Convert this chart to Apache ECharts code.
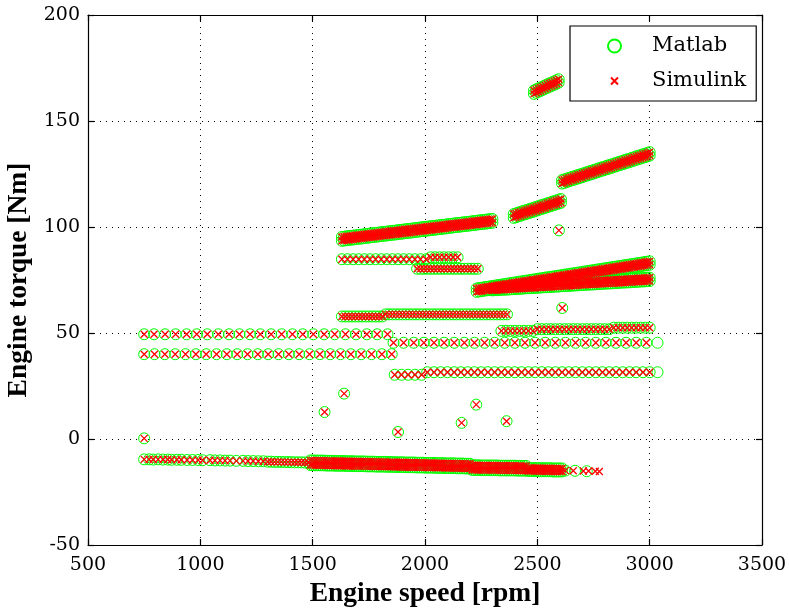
<!DOCTYPE html>
<html><head><meta charset="utf-8">
<script src="https://cdn.jsdelivr.net/npm/echarts@6/dist/echarts.min.js"></script>
<style>html,body{margin:0;padding:0;background:#fff}#c{width:789px;height:612px}</style>
</head><body><div id="c"></div><script>
// ---------- data (engine speed rpm, engine torque Nm) ----------
const xTicks = [500, 1000, 1500, 2000, 2500, 3000, 3500];
const yTicks = [-50, 0, 50, 100, 150, 200];

// horizontal rows of samples (rpm list, torque)
const row49Rpm = [750,794,843,890,939,984,1031,1080,1128,1174,1221,1267,1315,1362,1410,1456,1503,1551,1598,1646,1693,1741,1787,1833];
const row49Tq = 49.4;
const row40Rpm = [750,796,842,888,934,980,1026,1072,1118,1164,1210,1256,1302,1348,1394,1440,1486,1532,1578,1624,1670,1716,1762,1808,1852];
const row40Tq = 40.0;
const row45Rpm = [1860,1905,1950,1995,2040,2085,2130,2175,2220,2265,2310,2355,2400,2445,2490,2535,2580,2625,2670,2715,2760,2805,2850,2895,2940,2985];
const row45Tq = 45.4;
const row30Rpm = [1865,1895,1925,1955,1985];
const row30Tq = 30.3;
const row31Rpm = [2010,2040,2070,2100,2130,2160,2190,2220,2250,2280,2310,2340,2370,2400,2430,2460,2490,2520,2550,2580,2610,2640,2670,2700,2730,2760,2790,2820,2850,2880,2910,2940,2970,3000];
const row31Tq = 31.5;
const row58aRpm = [1630,1645,1660,1675,1690,1705,1720,1735,1750,1765,1780,1795,1810];
const row58aTq = 57.8;
const row58bRpm = [1825,1840,1855,1870,1885,1900,1915,1930,1945,1960,1975,1990,2005,2020,2035,2050,2065,2080,2095,2110,2125,2140,2155,2170,2185,2200,2215,2230,2245,2260,2275,2290,2305,2320,2335,2350,2365];
const row58bTq = 58.8;
const row51aRpm = [2340,2360,2380,2400,2420,2440,2460,2480];
const row51aTq = 51.0;
const row51bRpm = [2500,2520,2540,2560,2580,2600,2620,2640,2660,2680,2700,2720,2740,2760,2780,2800,2820];
const row51bTq = 51.8;
const row51cRpm = [2840,2860,2880,2900,2920,2940,2960,2980,3000];
const row51cTq = 52.5;
const row85aRpm = [1630,1655,1680,1705,1730,1755,1780,1805,1830,1855,1880,1905,1930,1955,1980,2005];
const row85aTq = 84.8;
const row85bRpm = [2025,2045,2065,2085,2105,2125,2145];
const row85bTq = 85.7;
const row80Rpm = [1965,1980,1995,2010,2025,2040,2055,2070,2085,2100,2115,2130,2145,2160,2175,2190,2205,2220,2235];
const row80Tq = 80.3;

// dense sloped bands (rpm list, upper-edge torque, lower-edge torque)
const b94Rpm = [1630,1640,1650,1660,1670,1680,1690,1700,1710,1720,1730,1740,1750,1760,1770,1780,1790,1800,1810,1820,1830,1840,1850,1860,1870,1880,1890,1900,1910,1920,1930,1940,1950,1960,1970,1980,1990,2000,2010,2020,2030,2040,2050,2060,2070,2080,2090,2100,2110,2120,2130,2140,2150,2160,2170,2180,2190,2200,2210,2220,2230,2240,2250,2260,2270,2280,2290,2300];
const b94Hi = [95.3,95.4,95.6,95.7,95.8,95.9,96.1,96.2,96.3,96.4,96.6,96.7,96.8,97.0,97.1,97.2,97.3,97.5,97.6,97.7,97.8,98.0,98.1,98.2,98.3,98.5,98.6,98.7,98.9,99.0,99.1,99.2,99.4,99.5,99.6,99.8,99.9,100.0,100.1,100.3,100.4,100.5,100.6,100.8,100.9,101.0,101.1,101.3,101.4,101.5,101.7,101.8,101.9,102.0,102.2,102.3,102.4,102.5,102.7,102.8,102.9,103.1,103.2,103.3,103.4,103.6,103.7,103.8];
const b94Lo = [93.5,93.6,93.8,93.9,94.0,94.1,94.3,94.4,94.5,94.6,94.8,94.9,95.0,95.2,95.3,95.4,95.5,95.7,95.8,95.9,96.0,96.2,96.3,96.4,96.5,96.7,96.8,96.9,97.1,97.2,97.3,97.4,97.6,97.7,97.8,98.0,98.1,98.2,98.3,98.5,98.6,98.7,98.8,99.0,99.1,99.2,99.3,99.5,99.6,99.7,99.9,100.0,100.1,100.2,100.4,100.5,100.6,100.7,100.9,101.0,101.1,101.3,101.4,101.5,101.6,101.8,101.9,102.0];

const b105Rpm = [2395,2405,2415,2425,2435,2445,2455,2465,2475,2485,2495,2505,2515,2525,2535,2545,2555,2565,2575,2585,2595,2605];
const b105Hi = [106.1,106.4,106.8,107.1,107.5,107.8,108.1,108.5,108.8,109.1,109.5,109.8,110.2,110.5,110.8,111.2,111.5,111.9,112.2,112.5,112.9,113.2];
const b105Lo = [104.3,104.6,105.0,105.3,105.7,106.0,106.3,106.7,107.0,107.3,107.7,108.0,108.4,108.7,109.0,109.4,109.7,110.1,110.4,110.7,111.1,111.4];

const b121Rpm = [2610,2620,2630,2640,2650,2660,2670,2680,2690,2700,2710,2720,2730,2740,2750,2760,2770,2780,2790,2800,2810,2820,2830,2840,2850,2860,2870,2880,2890,2900,2910,2920,2930,2940,2950,2960,2970,2980,2990,3000];
const b121Hi = [122.1,122.4,122.8,123.1,123.5,123.8,124.1,124.5,124.8,125.1,125.5,125.8,126.2,126.5,126.8,127.2,127.5,127.9,128.2,128.5,128.9,129.2,129.5,129.9,130.2,130.6,130.9,131.2,131.6,131.9,132.2,132.6,132.9,133.3,133.6,133.9,134.3,134.6,134.9,135.3];
const b121Lo = [120.5,120.8,121.2,121.5,121.9,122.2,122.5,122.9,123.2,123.5,123.9,124.2,124.6,124.9,125.2,125.6,125.9,126.3,126.6,126.9,127.3,127.6,127.9,128.3,128.6,129.0,129.3,129.6,130.0,130.3,130.6,131.0,131.3,131.7,132.0,132.3,132.7,133.0,133.3,133.7];

const b163Rpm = [2485,2495,2505,2515,2525,2535,2545,2555,2565,2575,2585,2595];
const b163Hi = [164.4,164.9,165.4,165.8,166.3,166.8,167.3,167.8,168.2,168.7,169.2,169.7];
const b163Lo = [162.8,163.3,163.8,164.2,164.7,165.2,165.7,166.2,166.6,167.1,167.6,168.1];

const b70uRpm = [2230,2240,2250,2260,2270,2280,2290,2300,2310,2320,2330,2340,2350,2360,2370,2380,2390,2400,2410,2420,2430,2440,2450,2460,2470,2480,2490,2500,2510,2520,2530,2540,2550,2560,2570,2580,2590,2600,2610,2620,2630,2640,2650,2660,2670,2680,2690,2700,2710,2720,2730,2740,2750,2760,2770,2780,2790,2800,2810,2820,2830,2840,2850,2860,2870,2880,2890,2900,2910,2920,2930,2940,2950,2960,2970,2980,2990,3000];
const b70uHi = [71.0,71.2,71.3,71.5,71.7,71.8,72.0,72.2,72.3,72.5,72.7,72.8,73.0,73.2,73.3,73.5,73.7,73.8,74.0,74.2,74.3,74.5,74.7,74.8,75.0,75.2,75.3,75.5,75.7,75.8,76.0,76.2,76.3,76.5,76.6,76.8,77.0,77.1,77.3,77.5,77.6,77.8,78.0,78.1,78.3,78.5,78.6,78.8,79.0,79.1,79.3,79.5,79.6,79.8,80.0,80.1,80.3,80.5,80.6,80.8,81.0,81.1,81.3,81.5,81.6,81.8,82.0,82.1,82.3,82.5,82.6,82.8,83.0,83.1,83.3,83.5,83.6,83.8];
const b70uLo = [69.4,69.6,69.7,69.9,70.1,70.2,70.4,70.6,70.7,70.9,71.1,71.2,71.4,71.6,71.7,71.9,72.1,72.2,72.4,72.6,72.7,72.9,73.1,73.2,73.4,73.6,73.7,73.9,74.1,74.2,74.4,74.6,74.7,74.9,75.0,75.2,75.4,75.5,75.7,75.9,76.0,76.2,76.4,76.5,76.7,76.9,77.0,77.2,77.4,77.5,77.7,77.9,78.0,78.2,78.4,78.5,78.7,78.9,79.0,79.2,79.4,79.5,79.7,79.9,80.0,80.2,80.4,80.5,80.7,80.9,81.0,81.2,81.4,81.5,81.7,81.9,82.0,82.2];

const b70lRpm = [2300,2310,2320,2330,2340,2350,2360,2370,2380,2390,2400,2410,2420,2430,2440,2450,2460,2470,2480,2490,2500,2510,2520,2530,2540,2550,2560,2570,2580,2590,2600,2610,2620,2630,2640,2650,2660,2670,2680,2690,2700,2710,2720,2730,2740,2750,2760,2770,2780,2790,2800,2810,2820,2830,2840,2850,2860,2870,2880,2890,2900,2910,2920,2930,2940,2950,2960,2970,2980,2990,3000];
const b70lHi = [71.7,71.8,71.8,71.9,72.0,72.0,72.1,72.1,72.2,72.3,72.3,72.4,72.5,72.5,72.6,72.7,72.7,72.8,72.8,72.9,73.0,73.0,73.1,73.2,73.2,73.3,73.3,73.4,73.5,73.5,73.6,73.7,73.7,73.8,73.8,73.9,74.0,74.0,74.1,74.2,74.2,74.3,74.4,74.4,74.5,74.5,74.6,74.7,74.7,74.8,74.9,74.9,75.0,75.0,75.1,75.2,75.2,75.3,75.4,75.4,75.5,75.5,75.6,75.7,75.7,75.8,75.9,75.9,76.0,76.1,76.1];
const b70lLo = [70.1,70.2,70.2,70.3,70.4,70.4,70.5,70.5,70.6,70.7,70.7,70.8,70.9,70.9,71.0,71.1,71.1,71.2,71.2,71.3,71.4,71.4,71.5,71.6,71.6,71.7,71.7,71.8,71.9,71.9,72.0,72.1,72.1,72.2,72.2,72.3,72.4,72.4,72.5,72.6,72.6,72.7,72.8,72.8,72.9,72.9,73.0,73.1,73.1,73.2,73.3,73.3,73.4,73.4,73.5,73.6,73.6,73.7,73.8,73.8,73.9,73.9,74.0,74.1,74.1,74.2,74.3,74.3,74.4,74.5,74.5];

const negRpm = [1490,1500,1510,1520,1530,1540,1550,1560,1570,1580,1590,1600,1610,1620,1630,1640,1650,1660,1670,1680,1690,1700,1710,1720,1730,1740,1750,1760,1770,1780,1790,1800,1810,1820,1830,1840,1850,1860,1870,1880,1890,1900,1910,1920,1930,1940,1950,1960,1970,1980,1990,2000,2010,2020,2030,2040,2050,2060,2070,2080,2090,2100,2110,2120,2130,2140,2150,2160,2170,2180,2190,2200,2210,2220,2230,2240,2250,2260,2270,2280,2290,2300,2310,2320,2330,2340,2350,2360,2370,2380,2390,2400,2410,2420,2430,2440,2450,2460,2470,2480,2490,2500,2510,2520,2530,2540,2550,2560,2570,2580,2590,2600,2610];
const negHi = [-10.1,-10.1,-10.2,-10.2,-10.2,-10.2,-10.2,-10.3,-10.3,-10.3,-10.3,-10.4,-10.4,-10.4,-10.4,-10.4,-10.5,-10.5,-10.5,-10.5,-10.6,-10.6,-10.6,-10.6,-10.6,-10.7,-10.7,-10.7,-10.7,-10.8,-10.8,-10.8,-10.8,-10.8,-10.9,-10.9,-10.9,-10.9,-11.0,-11.0,-11.0,-11.0,-11.1,-11.1,-11.1,-11.1,-11.1,-11.2,-11.2,-11.2,-11.2,-11.3,-11.3,-11.3,-11.3,-11.3,-11.4,-11.4,-11.4,-11.4,-11.5,-11.5,-11.5,-11.5,-11.5,-11.6,-11.6,-11.6,-11.6,-11.7,-11.7,-11.7,-12.4,-12.4,-12.4,-12.4,-12.5,-12.5,-12.5,-12.5,-12.5,-12.5,-12.5,-12.5,-12.6,-12.6,-12.6,-12.6,-12.6,-12.6,-12.6,-12.6,-12.7,-12.7,-12.7,-12.7,-12.7,-13.7,-13.7,-13.7,-13.7,-13.7,-13.8,-13.8,-13.8,-13.8,-13.8,-13.8,-13.9,-13.9,-13.9,-13.9,-13.9];
const negLo = [-12.3,-12.3,-12.4,-12.4,-12.4,-12.4,-12.4,-12.5,-12.5,-12.5,-12.5,-12.6,-12.6,-12.6,-12.6,-12.6,-12.7,-12.7,-12.7,-12.7,-12.8,-12.8,-12.8,-12.8,-12.8,-12.9,-12.9,-12.9,-12.9,-13.0,-13.0,-13.0,-13.0,-13.0,-13.1,-13.1,-13.1,-13.1,-13.2,-13.2,-13.2,-13.2,-13.3,-13.3,-13.3,-13.3,-13.3,-13.4,-13.4,-13.4,-13.4,-13.5,-13.5,-13.5,-13.5,-13.5,-13.6,-13.6,-13.6,-13.6,-13.7,-13.7,-13.7,-13.7,-13.7,-13.8,-13.8,-13.8,-13.8,-13.9,-13.9,-13.9,-14.6,-14.6,-14.6,-14.6,-14.7,-14.7,-14.7,-14.7,-14.7,-14.7,-14.7,-14.7,-14.8,-14.8,-14.8,-14.8,-14.8,-14.8,-14.8,-14.8,-14.9,-14.9,-14.9,-14.9,-14.9,-15.1,-15.1,-15.1,-15.1,-15.1,-15.2,-15.2,-15.2,-15.2,-15.2,-15.2,-15.3,-15.3,-15.3,-15.3,-15.3];

const negSparse = [[750,-9.6],[772,-9.6],[790,-9.7],[812,-9.6],[834,-9.7],[855,-9.7],[872,-9.8],[896,-9.8],[915,-9.8],[941,-9.9],[965,-9.9],[990,-9.9],[1010,-10.0],[1043,-10.0],[1065,-10.1],[1088,-10.1],[1110,-10.2],[1132,-10.2],[1160,-10.3],[1190,-10.3],[1212,-10.4],[1235,-10.4],[1258,-10.5],[1280,-10.5]];
const negThin = [[1300,-10.7],[1315,-10.7],[1330,-10.8],[1345,-10.8],[1360,-10.8],[1375,-10.9],[1390,-10.9],[1405,-10.9],[1420,-11.0],[1435,-11.0],[1450,-11.0],[1465,-11.1],[1480,-11.1],[2625,-14.9]];

const isolated = [[750,0.3],[1553,12.7],[1640,21.4],[1880,3.3],[2163,7.6],[2228,16.2],[2363,8.4],[2596,98.4],[2611,61.8]];

const matlabOnly = [[3035,45.4],[3035,31.5],[2668,-15.0],[2720,-15.2]];
const simulinkOnly = [[2660,-15.0],[2705,-15.1],[2728,-15.1],[2758,-15.2],[2776,-15.3]];

// ---------- build ----------
function row(rpms, tq) { return rpms.map(r => [r, tq]); }
function band(rpms, hi, lo) { return rpms.map((r, i) => [r, hi[i]]).concat(rpms.map((r, i) => [r, lo[i]])); }
const shared = [].concat(
  row(row49Rpm, row49Tq), row(row40Rpm, row40Tq), row(row45Rpm, row45Tq),
  row(row30Rpm, row30Tq), row(row31Rpm, row31Tq),
  row(row58aRpm, row58aTq), row(row58bRpm, row58bTq),
  row(row51aRpm, row51aTq), row(row51bRpm, row51bTq), row(row51cRpm, row51cTq),
  row(row85aRpm, row85aTq), row(row85bRpm, row85bTq), row(row80Rpm, row80Tq),
  band(b94Rpm, b94Hi, b94Lo), band(b105Rpm, b105Hi, b105Lo), band(b121Rpm, b121Hi, b121Lo),
  band(b163Rpm, b163Hi, b163Lo), band(b70uRpm, b70uHi, b70uLo), band(b70lRpm, b70lHi, b70lLo),
  band(negRpm, negHi, negLo),
  negSparse, negThin, isolated
);
const matlabData = shared.concat(matlabOnly);
const simulinkData = shared.concat(simulinkOnly);

const X_MARK = 'path://M0,0L10,10M10,0L0,10';
const X_MARK_LEGEND = 'path://M0,0M13,13M3,3L10,10M10,3L3,10';
const tickFont = { fontFamily: 'DejaVu Serif', fontSize: 19, color: '#000' };
const titleFont = { fontFamily: 'Liberation Serif', fontSize: 27.5, fontWeight: 'bold', color: '#000' };
const dotted = { show: true, lineStyle: { color: '#000', width: 1, type: [1, 5] } };
const axLine = { show: true, onZero: false, lineStyle: { color: '#000', width: 1.2 } };
const axTick = { show: true, inside: true, length: 6, lineStyle: { color: '#000', width: 1.2 } };
const plain = v => String(v);

const chart = echarts.init(document.getElementById('c'), null, { renderer: 'canvas' });
chart.setOption({
  animation: false,
  backgroundColor: '#fff',
  grid: { left: 88, right: 27, top: 15, bottom: 67, containLabel: false, outerBoundsMode: 'none' },
  legend: {
    orient: 'vertical', left: 570, top: 26,
    backgroundColor: '#fff', borderColor: '#000', borderWidth: 1.2, borderRadius: 0,
    padding: [8, 10, 8, 37], itemGap: 11, itemWidth: 13, itemHeight: 13,
    selectedMode: false,
    textStyle: { fontFamily: 'DejaVu Serif', fontSize: 21, color: '#000', lineHeight: 24, padding: [0, 0, 0, 26] },
    data: [{ name: 'Matlab', icon: 'circle' }, { name: 'Simulink', icon: X_MARK_LEGEND }]
  },
  xAxis: [{
    type: 'value', position: 'bottom', min: xTicks[0], max: xTicks[xTicks.length - 1], interval: 500,
    axisLine: axLine, axisTick: axTick, splitLine: dotted,
    axisLabel: Object.assign({ margin: 11, formatter: plain }, tickFont),
    name: 'Engine speed [rpm]', nameLocation: 'middle', nameGap: 32, nameTextStyle: titleFont
  }, {
    type: 'value', position: 'top', min: xTicks[0], max: xTicks[xTicks.length - 1], interval: 500,
    axisLine: axLine, axisTick: axTick, splitLine: { show: false }, axisLabel: { show: false }
  }],
  yAxis: [{
    type: 'value', position: 'left', min: yTicks[0], max: yTicks[yTicks.length - 1], interval: 50,
    axisLine: axLine, axisTick: axTick, splitLine: dotted,
    axisLabel: Object.assign({ margin: 8, formatter: plain }, tickFont),
    name: 'Engine torque [Nm]', nameLocation: 'middle', nameGap: 53, nameTextStyle: titleFont
  }, {
    type: 'value', position: 'right', min: yTicks[0], max: yTicks[yTicks.length - 1], interval: 50,
    axisLine: axLine, axisTick: axTick, splitLine: { show: false }, axisLabel: { show: false }
  }],
  series: [{
    name: 'Matlab', type: 'scatter', xAxisIndex: 0, yAxisIndex: 0,
    symbol: 'circle', symbolSize: 11, silent: true, progressive: 0,
    itemStyle: { color: 'rgba(0,0,0,0)', borderColor: '#00ff00', borderWidth: 1, opacity: 1 },
    data: matlabData
  }, {
    name: 'Simulink', type: 'scatter', xAxisIndex: 0, yAxisIndex: 0,
    symbol: X_MARK, symbolSize: 7, silent: true, progressive: 0,
    itemStyle: { color: '#ff0000', borderColor: '#ff0000', borderWidth: 1.3, opacity: 1 },
    data: simulinkData
  }]
});
</script></body></html>
